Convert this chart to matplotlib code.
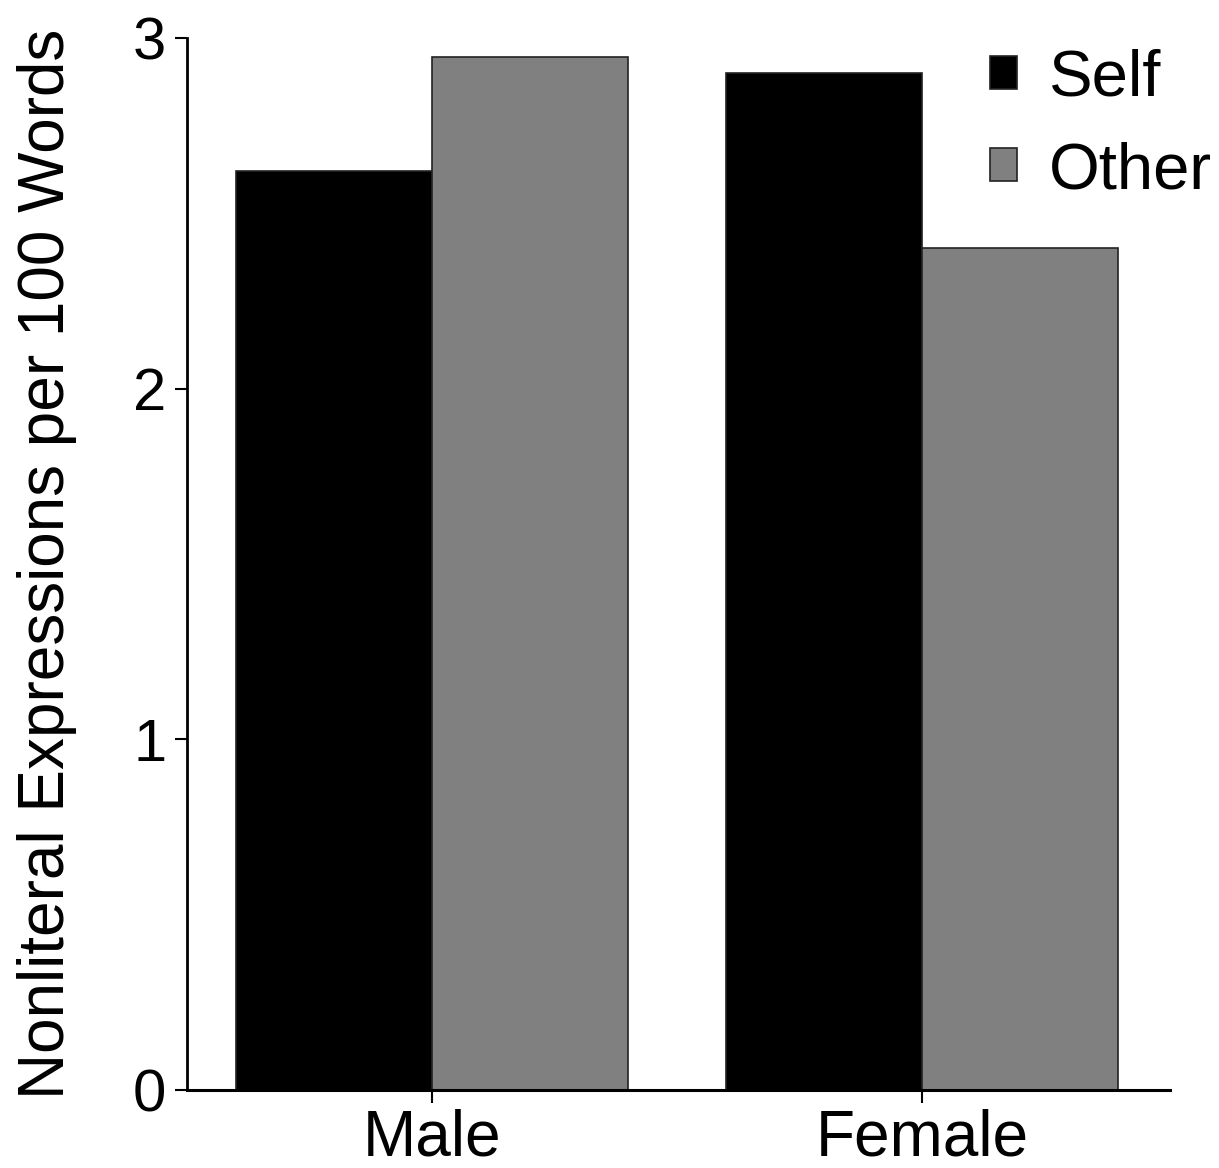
import numpy as np
import matplotlib.pyplot as plt

plt.rcParams['font.family'] = ['Liberation Sans', 'DejaVu Sans']

groups = ['Male', 'Female']
series = ['Self', 'Other']
self_vals = [2.62, 2.90]
other_vals = [2.945, 2.40]
colors = ['black', '#808080']

fig = plt.figure(figsize=(12.19, 11.68), dpi=100)
ax = fig.add_axes([0.1534, 0.0668, 0.8064, 0.9007])

x = np.arange(len(groups))
w = 0.4
ax.bar(x - w / 2, self_vals, w, color=colors[0], edgecolor='#222222', linewidth=1.2, label=series[0])
ax.bar(x + w / 2, other_vals, w, color=colors[1], edgecolor='#222222', linewidth=1.2, label=series[1])

ax.set_xlim(-0.5, 1.506)
ax.set_ylim(0, 3)
ax.set_xticks(x)
ax.set_xticklabels(groups, fontsize=46)
ax.set_yticks([0, 1, 2, 3])
ax.tick_params(axis='y', labelsize=43, direction='out', length=9, width=1.5, pad=6)
ax.tick_params(axis='x', direction='out', length=9, width=1.5, pad=4)
for s in ['top', 'right']:
    ax.spines[s].set_visible(False)
ax.spines['left'].set_linewidth(2.0)
ax.spines['bottom'].set_linewidth(2.2)
ax.set_ylabel('Nonliteral Expressions per 100 Words', fontsize=46, labelpad=40)

ax.legend(loc='upper right', bbox_to_anchor=(1.043, 0.99), frameon=False, fontsize=47,
          handlelength=0.4, handleheight=0.4, handletextpad=0.5, labelspacing=0.5,
          borderaxespad=0, borderpad=0)

fig.savefig('out.png', dpi=100)
